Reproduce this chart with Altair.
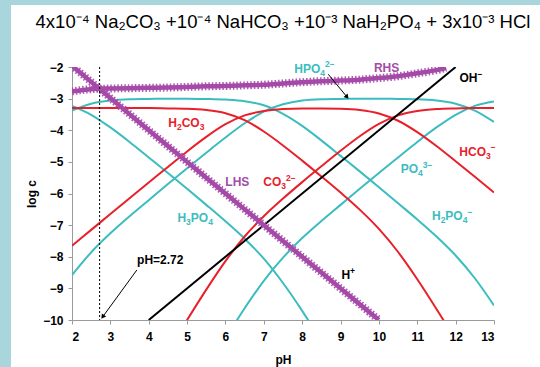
import altair as alt
import pandas as pd

# ---- data (log c vs pH) ----
ph = [2, 2.5, 3, 3.5, 4, 4.5, 5, 5.5, 6, 6.5, 7, 7.5, 8, 8.5, 9, 9.5, 10,
      10.5, 11, 11.5, 12, 12.5, 13]

h2co3 = [-3.30, -3.30, -3.30, -3.30, -3.30, -3.31, -3.32, -3.36, -3.46, -3.68,
         -4.04, -4.48, -4.96, -5.46, -5.97, -6.51, -7.12, -7.85, -8.71, -9.65,
         -10.63, None, None]
hco3 = [-7.65, -7.15, -6.65, -6.15, -5.65, -5.16, -4.67, -4.21, -3.81, -3.53,
        -3.39, -3.33, -3.31, -3.31, -3.32, -3.36, -3.47, -3.70, -4.06, -4.50,
        -4.98, -5.47, -5.97]
co3 = [None, None, None, None, None, -10.99, -10.00, -9.04, -8.14, -7.36,
       -6.72, -6.16, -5.64, -5.14, -4.65, -4.19, -3.80, -3.53, -3.39, -3.33,
       -3.31, -3.30, -3.30]

h3po4 = [-3.23, -3.51, -3.91, -4.37, -4.86, -5.35, -5.85, -6.36, -6.88, -7.43,
         -8.06, -8.83, -9.71, -10.67, None, None, None, None, None, None,
         None, None, None]
h2po4 = [-3.38, -3.16, -3.06, -3.02, -3.01, -3.00, -3.00, -3.01, -3.03, -3.08,
         -3.21, -3.48, -3.86, -4.32, -4.81, -5.30, -5.80, -6.31, -6.82, -7.36,
         -7.96, -8.68, -9.54]
hpo4 = [-8.58, -7.86, -7.26, -6.72, -6.21, -5.70, -5.20, -4.71, -4.23, -3.78,
        -3.41, -3.18, -3.06, -3.02, -3.01, -3.00, -3.00, -3.01, -3.02, -3.06,
        -3.16, -3.38, -3.74]
po4 = [None, None, None, None, None, None, None, None, -10.58, -9.63,
       -8.76, -8.03, -7.41, -6.87, -6.36, -5.85, -5.35, -4.86, -4.37, -3.91,
       -3.51, -3.23, -3.09]

oh_ph = [4, 12]
oh = [-10, -2]

lhs_ph = [2, 2.5, 3, 3.5, 4, 4.5, 5, 5.5, 6, 6.5, 7, 7.5, 8, 8.5, 9, 9.5, 10]
lhs = [-1.96, -2.47, -2.98, -3.49, -4.00, -4.50, -5.00, -5.50, -6.00, -6.50,
       -7.00, -7.50, -8.00, -8.50, -9.00, -9.50, -10.00]

rhs_ph = [2, 2.5, 3, 3.5, 4, 4.5, 5, 5.5, 6, 6.5, 7, 7.5, 8, 8.5, 9, 9.5, 10,
          10.5, 11, 11.5, 11.75]
rhs = [-2.77, -2.70, -2.68, -2.67, -2.66, -2.65, -2.63, -2.61, -2.60, -2.58,
       -2.56, -2.52, -2.48, -2.45, -2.43, -2.40, -2.35, -2.29, -2.20, -2.10,
       -2.03]

ph_marker = 2.72

x_ticks = [2, 3, 4, 5, 6, 7, 8, 9, 10, 11, 12, 13]
y_ticks = [-10, -9, -8, -7, -6, -5, -4, -3, -2]

# label pieces: n = normal, b = subscript, p = superscript
label_parts = [
    [("HPO", "n"), ("4", "b"), ("2−", "p")],
    [("RHS", "n")],
    [("OH", "n"), ("−", "p")],
    [("H", "n"), ("2", "b"), ("CO", "n"), ("3", "b")],
    [("HCO", "n"), ("3", "b"), ("−", "p")],
    [("PO", "n"), ("4", "b"), ("3−", "p")],
    [("LHS", "n")],
    [("CO", "n"), ("3", "b"), ("2−", "p")],
    [("H", "n"), ("3", "b"), ("PO", "n"), ("4", "b")],
    [("H", "n"), ("2", "b"), ("PO", "n"), ("4", "b"), ("−", "p")],
    [("H", "n"), ("+", "p")],
    [("pH=2.72", "n")],
]
label_x = [8.32, 10.20, 12.40, 4.98, 12.57, 10.98, 6.31, 7.41, 5.21, 11.91, 9.20, 4.30]
label_y = [-2.05, -2.03, -2.35, -3.77, -4.68, -5.24, -5.63, -5.64, -6.78, -6.72, -8.58, -8.11]
label_color = ["#3bbdbf", "#a54aa8", "#000000", "#e8202a", "#e8202a", "#3bbdbf",
               "#a54aa8", "#e8202a", "#3bbdbf", "#3bbdbf", "#000000", "#000000"]

arrow_x = [3.69, 8.68]
arrow_y = [-8.42, -2.23]
arrow_x2 = [2.80, 9.17]
arrow_y2 = [-9.90, -2.95]
arrow_angle = [216, 140]

RED = "#e8202a"
TEAL = "#3bbdbf"
PURPLE = "#a54aa8"
FONT = "Liberation Sans"

PLOT_W = 422
PLOT_H = 253
PX_PER_PH = PLOT_W / 11.0
MAIN_SIZE = 12
SMALL_SIZE = 8.5
# Arial/Liberation Sans Bold advance widths (per 1000 em), for piece layout
GLYPH_W = {"H": 722, "P": 667, "O": 778, "C": 722, "L": 611, "S": 667, "R": 722,
           "2": 556, "3": 556, "4": 556, "7": 556, "−": 584, "+": 584, "=": 584,
           ".": 278, "p": 611}

# ---- build tables ----
rows = []
def add(name, xs, ys, color):
    for x, y in zip(xs, ys):
        if y is not None:
            rows.append({"species": name, "ph": x, "logc": y, "color": color})

add("H3PO4", ph, h3po4, TEAL)
add("H2PO4", ph, h2po4, TEAL)
add("HPO4", ph, hpo4, TEAL)
add("PO4", ph, po4, TEAL)
add("H2CO3", ph, h2co3, RED)
add("HCO3", ph, hco3, RED)
add("CO3", ph, co3, RED)
add("OH", oh_ph, oh, "#000000")
curves = pd.DataFrame(rows)

sides = pd.DataFrame(
    [{"side": "LHS", "ph": x, "logc": y} for x, y in zip(lhs_ph, lhs)]
    + [{"side": "RHS", "ph": x, "logc": y} for x, y in zip(rhs_ph, rhs)]
)

piece_rows = []
for parts, cx, cy, col in zip(label_parts, label_x, label_y, label_color):
    widths = []
    for txt, kind in parts:
        size = MAIN_SIZE if kind == "n" else SMALL_SIZE
        widths.append(sum(GLYPH_W.get(c, 600) for c in txt) / 1000.0 * size)
    start = -sum(widths) / 2.0
    for (txt, kind), w in zip(parts, widths):
        off = start + w / 2.0
        piece_rows.append({"x": cx + off / PX_PER_PH, "y": cy, "text": txt,
                           "kind": kind, "color": col})
        start += w
pieces = pd.DataFrame(piece_rows)

arrows = pd.DataFrame({"x": arrow_x, "y": arrow_y, "x2": arrow_x2, "y2": arrow_y2,
                       "angle": arrow_angle})
marker = pd.DataFrame({"x": [ph_marker], "y": [-2], "y2": [-10]})

xscale = alt.Scale(domain=[2, 13], nice=False)
yscale = alt.Scale(domain=[-10, -2], nice=False)

xaxis = alt.Axis(values=x_ticks, title="pH", grid=False,
                 labelFont=FONT, labelFontWeight="bold", labelFontSize=12,
                 titleFont=FONT, titleFontWeight="bold", titleFontSize=12,
                 domainColor="#9a9a9a", tickColor="#9a9a9a", tickSize=4,
                 labelPadding=7, titlePadding=12, labelColor="#000", titleColor="#000",
                 labelOverlap=False)
yaxis = alt.Axis(values=y_ticks, title="log c", grid=False,
                 labelFont=FONT, labelFontWeight="bold", labelFontSize=12,
                 titleFont=FONT, titleFontWeight="bold", titleFontSize=12,
                 domainColor="#9a9a9a", tickColor="#9a9a9a", tickSize=4,
                 labelPadding=5, titlePadding=4, labelColor="#000", titleColor="#000",
                 labelOverlap=False)

def X(field):
    return alt.X(field, scale=xscale, axis=xaxis)

def Y(field):
    return alt.Y(field, scale=yscale, axis=yaxis)

base_curves = alt.Chart(curves).mark_line(
    strokeWidth=2, interpolate="monotone", clip=True
).encode(
    x=X("ph:Q"),
    y=Y("logc:Q"),
    color=alt.Color("color:N", scale=None),
    detail="species:N",
)

side_core = alt.Chart(sides).mark_line(
    strokeWidth=4.5, color=PURPLE, interpolate="monotone", clip=True
).encode(x=X("ph:Q"), y=Y("logc:Q"), detail="side:N")

side_teeth = alt.Chart(sides).mark_line(
    strokeWidth=8, color=PURPLE, interpolate="monotone", clip=True,
    strokeDash=[1.5, 2], opacity=0.9
).encode(x=X("ph:Q"), y=Y("logc:Q"), detail="side:N")

vline = alt.Chart(marker).mark_rule(color="#000", strokeWidth=1, strokeDash=[2, 2]).encode(
    x=X("x:Q"), y=Y("y:Q"), y2="y2:Q"
)

arrow_lines = alt.Chart(arrows).mark_rule(color="#000", strokeWidth=1).encode(
    x=X("x:Q"), y=Y("y:Q"), x2="x2:Q", y2="y2:Q"
)
arrow_heads = alt.Chart(arrows).mark_point(
    shape="triangle-up", filled=True, color="#000", size=28, opacity=1
).encode(
    x=X("x2:Q"), y=Y("y2:Q"), angle=alt.Angle("angle:Q", scale=None)
)

def text_layer(kind, size, dy):
    return alt.Chart(pieces).transform_filter(
        alt.datum.kind == kind
    ).mark_text(
        font=FONT, fontWeight="bold", fontSize=size, dy=dy, align="center"
    ).encode(
        x=X("x:Q"), y=Y("y:Q"), text="text:N",
        color=alt.Color("color:N", scale=None)
    )

text_main = text_layer("n", MAIN_SIZE, 0)
text_sub = text_layer("b", SMALL_SIZE, 4)
text_sup = text_layer("p", SMALL_SIZE, -4.5)

one = pd.DataFrame({"a": [0]})
strip_left = alt.Chart(one).mark_rect(color="#a8d6dc").encode(
    x=alt.value(-72), x2=alt.value(-61), y=alt.value(-67), y2=alt.value(300)
)
strip_top = alt.Chart(one).mark_rect(color="#a8d6dc").encode(
    x=alt.value(-72), x2=alt.value(468), y=alt.value(-67), y2=alt.value(-62)
)

chart = alt.layer(
    strip_left, strip_top, base_curves, side_core, side_teeth, vline,
    arrow_lines, arrow_heads, text_main, text_sub, text_sup
).properties(
    width=PLOT_W, height=PLOT_H,
    padding={"left": 72, "top": 67, "right": 46, "bottom": 47},
    autosize=alt.AutoSizeParams(type="none"),
    background="white",
    title=alt.TitleParams(
        "4x10⁻⁴ Na₂CO₃ +10⁻⁴ NaHCO₃ +10⁻³ NaH₂PO₄ + 3x10⁻³ HCl",
        font=FONT, fontSize=18.5, fontWeight="normal", anchor="middle",
        offset=0, dy=31, color="#000"
    ),
).configure_view(stroke=None)

chart.save("out.html", embed_options={"renderer": "svg", "actions": False})
